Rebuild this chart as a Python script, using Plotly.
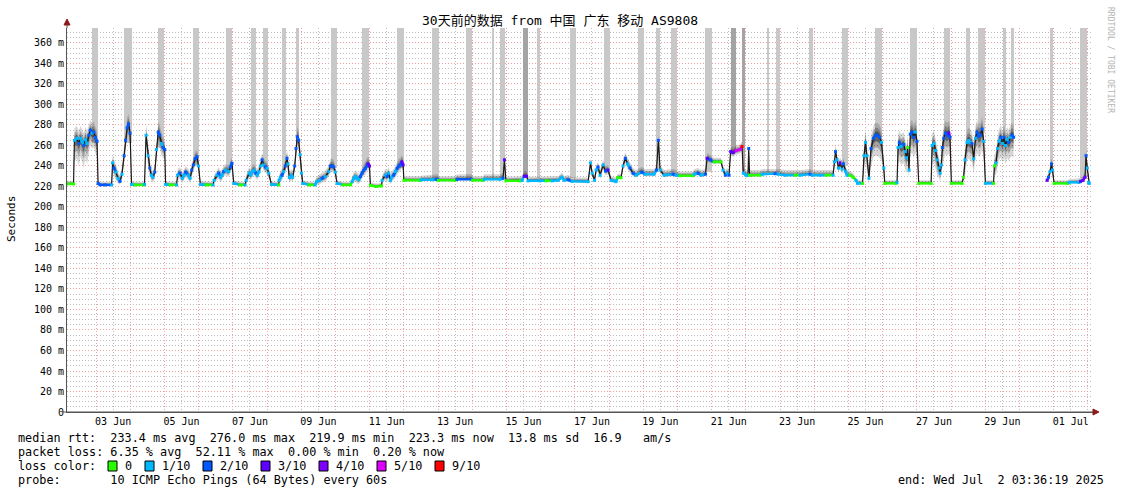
import plotly.graph_objects as go
import pandas as pd

# ---------------- data ----------------
times = [
    "06-02 03:36", "06-02 08:12", "06-02 08:48", "06-02 10:30", "06-02 11:54", "06-02 13:00", "06-02 14:12",
    "06-02 15:24", "06-02 16:30", "06-02 17:42", "06-02 18:54", "06-02 20:00", "06-02 21:12", "06-02 22:24",
    "06-02 23:30", "06-03 00:42", "06-03 01:24",
    "06-03 02:48", "06-03 06:18", "06-03 10:54", "06-03 11:36", "06-03 12:36", "06-03 14:00", "06-03 15:24",
    "06-03 16:48", "06-03 18:12", "06-03 19:42", "06-03 20:42", "06-03 21:48", "06-03 22:48", "06-03 23:54",
    "06-04 00:54",
    "06-04 03:24", "06-04 09:18", "06-04 10:00", "06-04 11:06", "06-04 12:30", "06-04 13:42", "06-04 14:48",
    "06-04 16:00", "06-04 17:12", "06-04 18:24", "06-04 19:36", "06-04 20:42", "06-04 21:54", "06-04 23:06",
    "06-05 00:12", "06-05 00:48",
    "06-05 03:54", "06-05 08:30", "06-05 09:12", "06-05 10:54", "06-05 12:24", "06-05 13:48", "06-05 14:48",
    "06-05 16:54", "06-05 18:00", "06-05 19:06", "06-05 20:18", "06-05 21:30", "06-05 22:54", "06-05 23:54",
    "06-06 01:12",
    "06-06 05:12", "06-06 10:06", "06-06 10:48", "06-06 12:54", "06-06 14:06", "06-06 15:12", "06-06 16:24",
    "06-06 17:36", "06-06 18:42", "06-06 21:06", "06-06 22:12", "06-06 23:24", "06-07 00:36",
    "06-07 05:06", "06-07 08:36", "06-07 09:18", "06-07 11:24", "06-07 12:36", "06-07 13:42", "06-07 14:54",
    "06-07 16:06", "06-07 17:12", "06-07 18:24", "06-07 19:18", "06-07 20:30", "06-07 21:42", "06-07 22:48",
    "06-08 00:00", "06-08 01:12", "06-08 03:00",
    "06-08 08:12", "06-08 08:24", "06-08 09:18", "06-08 10:30", "06-08 11:42", "06-08 12:48", "06-08 14:00",
    "06-08 14:42", "06-08 15:36", "06-08 17:00", "06-08 18:00", "06-08 19:24", "06-08 20:18", "06-08 21:12",
    "06-08 22:12", "06-08 23:12", "06-09 00:06", "06-09 01:00",
    "06-09 05:30", "06-09 09:42", "06-09 10:42", "06-09 12:54", "06-09 14:36", "06-09 16:54", "06-09 19:18",
    "06-09 20:24", "06-09 21:36", "06-09 22:48", "06-09 23:54", "06-10 01:06",
    "06-10 05:18", "06-10 10:30", "06-10 11:42", "06-10 12:48", "06-10 14:00", "06-10 15:12", "06-10 16:24",
    "06-10 17:30", "06-10 18:42", "06-10 19:54", "06-10 21:00", "06-10 22:12", "06-10 22:54", "06-10 23:54",
    "06-11 00:30",
    "06-11 04:30", "06-11 08:24", "06-11 08:42", "06-11 11:00", "06-11 12:12", "06-11 13:24", "06-11 14:30",
    "06-11 15:42", "06-11 16:54", "06-11 18:06", "06-11 19:18", "06-11 20:24", "06-11 21:36", "06-11 22:36",
    "06-11 23:30", "06-12 00:00",
    "06-12 11:24", "06-12 12:06", "06-12 19:48", "06-12 22:36", "06-12 23:48", "06-13 00:12", "06-13 11:54",
    "06-13 13:18", "06-13 23:36", "06-14 00:12", "06-14 07:36", "06-14 08:18", "06-14 19:30", "06-14 21:36",
    "06-14 22:36", "06-14 23:36", "06-15 09:30", "06-15 11:00", "06-15 12:24", "06-15 14:06", "06-15 15:12",
    "06-15 23:36", "06-16 03:48", "06-16 08:00", "06-16 12:12", "06-16 15:00", "06-16 16:24", "06-16 19:12",
    "06-16 22:00",
    "06-17 09:18", "06-17 11:00", "06-17 12:06", "06-17 13:48", "06-17 14:54", "06-17 16:18", "06-17 17:42",
    "06-17 19:48", "06-17 21:30", "06-17 23:18", "06-18 01:24", "06-18 04:54", "06-18 06:00", "06-18 08:24",
    "06-18 09:48", "06-18 11:24", "06-18 13:00", "06-18 14:42", "06-18 16:48", "06-18 18:54", "06-18 22:54",
    "06-19 01:18", "06-19 07:36", "06-19 09:18", "06-19 10:36", "06-19 11:48", "06-19 14:36", "06-19 20:54",
    "06-19 23:00", "06-20 01:48", "06-20 10:54", "06-20 11:42", "06-20 14:30", "06-20 16:30", "06-20 19:42",
    "06-20 20:48", "06-20 22:54", "06-21 01:42", "06-21 06:36", "06-21 08:00", "06-21 09:36", "06-21 10:48",
    "06-21 12:12", "06-21 13:18", "06-21 15:00", "06-21 17:06", "06-21 19:54", "06-21 21:18", "06-21 22:12",
    "06-22 00:06", "06-22 01:30", "06-22 02:00", "06-22 02:36", "06-22 10:00", "06-22 11:24", "06-22 20:30",
    "06-22 22:36", "06-23 03:30", "06-23 10:30", "06-23 14:00", "06-23 21:00", "06-23 22:30", "06-24 04:06",
    "06-24 08:18", "06-24 13:12", "06-24 14:12", "06-24 14:54", "06-24 16:00", "06-24 17:00", "06-24 18:06",
    "06-24 19:30", "06-24 20:30", "06-24 21:48", "06-24 23:00",
    "06-25 01:06", "06-25 03:12", "06-25 05:18", "06-25 06:24", "06-25 09:54", "06-25 10:54", "06-25 12:00",
    "06-25 13:00", "06-25 14:24", "06-25 15:48", "06-25 17:36", "06-25 19:00", "06-25 20:24", "06-25 21:48",
    "06-25 23:12", "06-26 00:48", "06-26 01:30",
    "06-26 09:24", "06-26 10:06", "06-26 10:48", "06-26 11:42", "06-26 12:54", "06-26 14:48", "06-26 15:54",
    "06-26 16:42", "06-26 17:36", "06-26 18:30", "06-26 19:24", "06-26 20:36", "06-26 21:48", "06-26 22:54",
    "06-27 00:06", "06-27 01:18",
    "06-27 10:00", "06-27 10:42", "06-27 12:06", "06-27 13:06", "06-27 14:12", "06-27 15:36", "06-27 16:18",
    "06-27 17:12", "06-27 17:54", "06-27 18:54", "06-27 20:00", "06-27 21:12", "06-27 22:24", "06-27 23:18",
    "06-28 00:12",
    "06-28 07:42", "06-28 08:48", "06-28 09:48", "06-28 11:12", "06-28 12:24", "06-28 13:30", "06-28 14:42",
    "06-28 15:54", "06-28 17:06", "06-28 18:12", "06-28 19:24", "06-28 20:36", "06-28 21:48", "06-28 22:54",
    "06-29 00:06",
    "06-29 05:48", "06-29 06:24", "06-29 07:36", "06-29 08:36", "06-29 09:42", "06-29 10:54", "06-29 12:00",
    "06-29 13:12", "06-29 14:12", "06-29 15:18", "06-29 16:24", "06-29 17:36", "06-29 18:48", "06-29 19:54",
    "06-30 00:00",
    "06-30 19:24", "06-30 20:24", "06-30 21:30", "06-30 22:30", "06-30 23:12", "07-01 00:18", "07-01 10:06",
    "07-01 10:48", "07-01 17:48", "07-01 18:54", "07-01 20:36", "07-01 22:00", "07-01 22:42", "07-01 23:36",
    "07-02 00:30", "07-02 01:00",
]

median_ms = [
    222.5, 222.5, 265, 267, 262, 267, 264, 260, 266, 262, 270, 275, 272, 273, 268, 264, 223,
    221.5, 221.5, 221.5, 243, 238, 234, 228, 225, 232, 250, 265, 277, 281, 272, 222,
    221.5, 221.5, 222, 270, 250, 238, 231, 229, 234, 256, 273, 270, 262, 258, 256, 222,
    221.5, 221.5, 231, 233, 228, 231, 234, 231, 228, 236, 241, 247, 249, 240, 222,
    221.5, 221.5, 226, 231, 233, 229, 231, 234.5, 236, 234.5, 239, 242.6, 223,
    221.5, 221.5, 226, 233, 231, 234.5, 236, 233, 231, 234.5, 240, 246, 241, 239, 237.7, 233, 222,
    221.5, 226, 228.7, 231, 234.5, 240, 247.5, 242, 228.7, 231, 229, 240, 257, 268.5, 265, 251, 233, 223,
    221.5, 221.5, 224.7, 226, 228, 229.6, 234.5, 240, 240, 239, 234, 223,
    221.5, 221.5, 224.7, 228, 229.6, 228, 226.5, 229.6, 233, 236, 237.7, 241, 242, 240, 221,
    220, 220.5, 226, 231, 229.6, 233, 226, 229.6, 231, 234.5, 237.7, 240, 241, 244, 241, 226,
    226, 226.5, 226.5, 227, 227, 226, 226, 227, 227, 226, 226, 227, 227, 228,
    246, 225.5, 225.5, 226, 230, 230, 225.5, 225.5, 225.5, 225.5, 226, 229, 226, 226.5, 225,
    224.7, 243, 233, 226, 236, 239, 231, 241, 235, 236, 226, 224.7, 228.5, 228.5,
    240, 247.5, 242, 238, 233, 231, 234, 232, 232, 236, 265, 236, 231, 232,
    231, 230.5, 230.5, 232, 233, 231, 232, 247.5, 246, 244, 244, 236, 231, 233,
    231, 254, 253, 255, 256, 259, 233, 231, 231, 257, 231, 231, 232, 232.5,
    232, 231, 231, 231, 232, 231, 231, 231, 231, 244, 254, 246, 238, 243,
    237, 242, 235, 231,
    231, 229, 226, 223, 223, 250, 263, 250, 228, 257, 267, 270, 270, 268, 263, 238, 223,
    223, 224, 258, 263, 259, 261, 254, 248, 258, 236, 271, 273, 268, 273, 264, 223,
    223, 260, 262, 255, 246, 238, 233, 241, 258, 267, 272, 270, 272, 268, 223,
    223, 229, 246, 263, 265, 263, 262, 247, 267, 273, 269, 270, 276, 264, 223,
    223, 240, 243, 257, 264, 268, 262, 268, 260, 266, 263, 268, 270, 268,
    None,
    226, 229, 234.5, 242, 236, 223, 223, 224, 224, 225, 226, 229, 250, 238, 224, 223,
]

loss_tenths = [
    0, 0, 1, 1, 2, 1, 1, 2, 1, 1, 2, 2, 1, 2, 2, 2, 2,
    2, 2, 1, 1, 2, 1, 1, 2, 1, 2, 2, 2, 2, 2, 1,
    0, 0, 1, 1, 1, 2, 1, 1, 2, 1, 2, 2, 1, 2, 2, 1,
    0, 1, 1, 2, 1, 1, 2, 1, 1, 2, 2, 2, 2, 1, 1,
    0, 1, 1, 1, 2, 1, 1, 2, 1, 1, 2, 2, 1,
    0, 1, 1, 1, 1, 1, 1, 2, 1, 1, 1, 2, 1, 2, 1, 1, 1,
    0, 1, 1, 2, 1, 2, 2, 1, 1, 1, 1, 2, 2, 2, 2, 1, 1, 1,
    0, 1, 1, 1, 2, 1, 1, 2, 2, 2, 1, 1,
    0, 0, 1, 1, 1, 1, 1, 2, 2, 2, 2, 2, 3, 3, 0,
    0, 0, 1, 1, 2, 1, 1, 1, 2, 1, 2, 2, 2, 3, 3, 0,
    0, 1, 1, 2, 2, 0, 0, 2, 2, 0, 0, 1, 1, 2,
    3, 0, 0, 1, 3, 3, 1, 1, 0, 1, 1, 1, 1, 2, 1,
    1, 1, 1, 1, 1, 2, 1, 1, 2, 3, 1, 1, 0, 0,
    1, 2, 1, 2, 2, 1, 2, 1, 1, 2, 2, 1, 1, 2,
    1, 0, 0, 1, 2, 1, 2, 3, 2, 0, 0, 1, 2, 1,
    2, 3, 3, 5, 5, 9, 1, 1, 1, 2, 0, 0, 1, 2,
    1, 1, 0, 1, 2, 1, 1, 0, 1, 1, 2, 1, 1, 3,
    1, 2, 1, 1,
    0, 0, 1, 1, 0, 1, 1, 1, 1, 2, 2, 2, 2, 2, 1, 1, 0,
    0, 1, 1, 2, 1, 2, 1, 1, 0, 1, 2, 2, 2, 1, 2, 0,
    0, 1, 1, 1, 1, 1, 1, 1, 2, 2, 2, 2, 3, 2, 0,
    0, 0, 1, 1, 1, 1, 2, 1, 1, 2, 2, 2, 2, 1, 1,
    0, 0, 1, 1, 1, 2, 1, 2, 1, 1, 2, 1, 2, 2,
    0,
    3, 2, 1, 2, 1, 0, 0, 1, 1, 3, 3, 3, 2, 1, 1, 1,
]

smoke_up = [
    3, 3, 12, 12, 12, 12, 12, 12, 12, 12, 10, 10, 10, 10, 10, 10, 3,
    3, 3, 3, 8, 8, 8, 6, 6, 8, 10, 10, 10, 10, 10, 3,
    3, 3, 3, 12, 10, 8, 6, 6, 8, 10, 10, 10, 10, 10, 10, 3,
    3, 3, 6, 6, 6, 6, 6, 6, 6, 6, 7, 7, 7, 6, 3,
    3, 3, 5, 6, 6, 6, 6, 6, 6, 6, 6, 6, 3,
    3, 3, 5, 6, 6, 6, 6, 6, 6, 6, 6, 7, 6, 6, 6, 6, 3,
    3, 5, 6, 6, 6, 7, 8, 7, 6, 6, 6, 7, 10, 10, 10, 8, 6, 3,
    3, 3, 5, 6, 6, 6, 6, 7, 7, 7, 6, 3,
    3, 3, 5, 6, 6, 6, 6, 6, 6, 7, 7, 7, 7, 7, 3,
    3, 3, 5, 6, 6, 6, 6, 6, 6, 6, 7, 7, 7, 7, 7, 4,
    4, 4, 5, 5, 5, 4, 4, 5, 5, 4, 4, 5, 5, 5,
    6, 4, 4, 4, 5, 5, 4, 4, 4, 4, 4, 5, 4, 5, 4,
    4, 5, 5, 5, 5, 5, 5, 5, 5, 5, 4, 4, 4, 4,
    5, 6, 6, 6, 5, 5, 5, 5, 5, 5, 6, 5, 5, 5,
    5, 4, 4, 5, 5, 5, 5, 5, 5, 4, 4, 5, 5, 5,
    5, 5, 5, 5, 5, 5, 5, 5, 5, 5, 5, 5, 5, 5,
    5, 5, 5, 5, 5, 5, 5, 5, 5, 6, 7, 6, 6, 6,
    6, 6, 5, 5,
    4, 4, 3, 3, 3, 12, 12, 12, 10, 12, 12, 12, 12, 12, 12, 8, 3,
    3, 3, 12, 12, 12, 12, 12, 12, 12, 10, 12, 12, 12, 12, 12, 3,
    3, 12, 12, 12, 12, 10, 10, 10, 12, 12, 12, 12, 12, 12, 3,
    3, 6, 12, 12, 12, 12, 12, 12, 12, 12, 12, 12, 12, 12, 3,
    3, 10, 12, 12, 12, 12, 12, 12, 12, 12, 12, 12, 12, 12,
    0,
    4, 5, 6, 6, 6, 3, 3, 3, 4, 4, 4, 5, 6, 5, 4, 3,
]

smoke_dn = [
    1, 1, 20, 20, 22, 18, 20, 22, 18, 20, 18, 15, 15, 15, 15, 15, 1,
    1, 1, 1, 8, 8, 8, 5, 3, 6, 10, 10, 10, 10, 12, 1,
    1, 1, 1, 10, 10, 8, 6, 5, 6, 10, 12, 12, 12, 10, 10, 1,
    1, 1, 5, 5, 5, 5, 5, 5, 5, 6, 6, 7, 7, 6, 1,
    1, 1, 3, 5, 5, 5, 5, 5, 5, 5, 6, 6, 1,
    1, 1, 3, 5, 5, 5, 5, 5, 5, 5, 6, 7, 6, 6, 6, 5, 1,
    1, 3, 5, 5, 5, 6, 8, 7, 5, 5, 5, 6, 10, 10, 10, 8, 6, 1,
    1, 1, 3, 4, 4, 5, 5, 6, 6, 6, 5, 1,
    1, 1, 3, 4, 5, 5, 4, 5, 5, 6, 6, 6, 6, 6, 1,
    1, 1, 3, 5, 5, 5, 4, 5, 5, 5, 6, 6, 6, 6, 6, 1,
    1, 1, 1, 1, 1, 1, 1, 1, 1, 1, 1, 1, 1, 1,
    4, 1, 1, 1, 2, 2, 1, 1, 1, 1, 1, 2, 1, 1, 1,
    1, 5, 4, 2, 4, 4, 4, 5, 4, 4, 2, 1, 1, 1,
    4, 5, 5, 5, 3, 2, 2, 2, 2, 3, 6, 3, 2, 2,
    2, 1, 1, 2, 2, 2, 2, 3, 3, 2, 2, 3, 2, 2,
    2, 4, 4, 4, 4, 4, 2, 2, 2, 4, 2, 1, 1, 1,
    1, 1, 1, 1, 1, 1, 1, 1, 1, 5, 6, 6, 5, 5,
    5, 5, 4, 2,
    1, 1, 1, 1, 1, 15, 18, 15, 5, 18, 18, 20, 20, 20, 18, 8, 1,
    1, 1, 18, 18, 18, 18, 18, 15, 18, 8, 20, 20, 20, 20, 18, 1,
    1, 18, 18, 18, 15, 10, 8, 10, 18, 20, 20, 20, 20, 20, 1,
    1, 3, 15, 18, 18, 18, 18, 15, 18, 20, 20, 20, 20, 18, 1,
    1, 8, 12, 18, 18, 20, 18, 20, 18, 18, 18, 20, 20, 20,
    0,
    1, 3, 5, 6, 5, 1, 1, 1, 1, 1, 1, 2, 6, 4, 1, 1,
]

# smoke that ran off the top of the chart (at least one ping above the scale)
bar_start = [
    "06-02 21:12", "06-03 19:54", "06-04 19:12", "06-05 20:06", "06-06 19:12", "06-07 12:48", "06-07 21:12",
    "06-08 10:30", "06-08 20:00", "06-09 20:36", "06-10 18:42", "06-11 19:12", "06-12 19:48", "06-13 19:18",
    "06-14 13:30", "06-14 19:30", "06-15 11:36", "06-15 21:30", "06-16 20:36", "06-17 20:06", "06-18 20:00",
    "06-19 09:00", "06-19 19:12", "06-20 19:24", "06-21 13:18", "06-21 21:00", "06-22 14:54", "06-22 21:12",
    "06-23 20:00", "06-24 19:30", "06-25 18:42", "06-26 19:12", "06-27 18:42", "06-28 10:30", "06-28 18:54",
    "06-29 12:30", "06-29 17:48", "06-30 21:30", "07-01 18:30",
]
bar_end = [
    "06-03 01:24", "06-04 00:54", "06-04 23:42", "06-06 00:18", "06-06 23:24", "06-07 16:18", "06-08 00:24",
    "06-08 13:00", "06-08 22:06", "06-10 00:48", "06-10 23:12", "06-11 23:48", "06-13 00:24", "06-13 23:30",
    "06-14 15:18", "06-14 23:00", "06-15 15:12", "06-15 23:36", "06-17 00:48", "06-18 00:24", "06-19 00:12",
    "06-19 11:48", "06-19 23:24", "06-20 23:54", "06-21 16:48", "06-21 23:06", "06-22 16:18", "06-23 00:00",
    "06-23 22:48", "06-24 23:36", "06-25 23:36", "06-26 23:48", "06-27 23:18", "06-28 13:18", "06-28 23:54",
    "06-29 14:36", "06-29 20:12", "06-30 23:36", "07-01 23:06",
]
bar_base = [
    262, 262, 258, 240, 236, 234, 240, 235, 262, 238, 238, 238, 228, 228,
    228, 228, 228, 228, 228, 236, 234, 236, 234, 234, 255, 235, 234, 234,
    234, 240, 268, 270, 270, 264, 272, 266, 268, 238, 228,
]
bar_pings_over = [
    1, 1, 1, 1, 1, 1, 1, 1, 1, 1, 1, 1, 1, 1,
    1, 1, 2, 1, 1, 1, 1, 1, 1, 1, 2, 2, 1, 1,
    1, 1, 1, 1, 1, 1, 1, 1, 1, 1, 1,
]

y_tick_vals = [0, 20, 40, 60, 80, 100, 120, 140, 160, 180, 200, 220, 240, 260, 280, 300, 320, 340, 360]
y_tick_text = ["0"] + [f"{v} m" for v in y_tick_vals[1:]]

title_text = "30天前的数据 from 中国 广东 移动 AS9808"
stat_lines = [
    "median rtt:  233.4 ms avg  276.0 ms max  219.9 ms min  223.3 ms now  13.8 ms sd  16.9   am/s",
    "packet loss: 6.35 % avg  52.11 % max  0.00 % min  0.20 % now",
    "loss color:",
    "probe:       10 ICMP Echo Pings (64 Bytes) every 60s",
]
loss_levels = [0, 1, 2, 3, 4, 5, 9]
loss_labels = ["0", "1/10", "2/10", "3/10", "4/10", "5/10", "9/10"]
end_text = "end: Wed Jul  2 03:36:19 2025"
x_start = "2025-06-02 03:36:19"
x_end = "2025-07-02 03:36:19"

# ---------------- styling ----------------
LOSS_COLORS = {0: "#26ff00", 1: "#00b8ff", 2: "#0059ff", 3: "#5e00ff",
               4: "#7e00ff", 5: "#dd00ff", 9: "#ff0000"}
MONO = "DejaVu Sans Mono, Noto Sans CJK SC, monospace"
W, H = 1121, 494
L, R, T, B = 67, 1093, 28, 412
Y_TOP = 374.6
RED_GRID = "#f0a0a0"
GRAY_GRID = "#bdbdbd"
DOTS = "1px,2px"


def px(x):
    return (x - L) / (R - L)


def py(y):
    return (B - y) / (B - T)


t = pd.to_datetime(["2025-" + s for s in times])

fig = go.Figure()

# tall bars (smoke beyond the chart top)
bs = pd.to_datetime(["2025-" + s for s in bar_start])
be = pd.to_datetime(["2025-" + s for s in bar_end])
centers = bs + (be - bs) / 2
widths = [(e - s).total_seconds() * 1000 for s, e in zip(bs, be)]
bar_cols = ["#c8c8c8" if n == 1 else "#a4a4a4" for n in bar_pings_over]
fig.add_trace(go.Bar(x=centers, y=[Y_TOP + 10 - b for b in bar_base], base=bar_base,
                     width=widths, marker=dict(color=bar_cols, line=dict(width=0)),
                     hoverinfo="skip"))

# contiguous runs (split at missing data)
runs, cur = [], []
for i, m in enumerate(median_ms):
    if m is None:
        if cur:
            runs.append(cur)
        cur = []
    else:
        cur.append(i)
if cur:
    runs.append(cur)

# smoke layers
for frac, col in [(1.0, "rgba(0,0,0,0.16)"), (0.6, "rgba(0,0,0,0.24)"), (0.3, "rgba(0,0,0,0.38)")]:
    for run in runs:
        xs = [t[i] for i in run]
        hi = [median_ms[i] + smoke_up[i] * frac for i in run]
        lo = [median_ms[i] - smoke_dn[i] * frac for i in run]
        fig.add_trace(go.Scatter(x=xs + xs[::-1], y=hi + lo[::-1], fill="toself",
                                 fillcolor=col, line=dict(width=0), mode="lines",
                                 hoverinfo="skip"))

# median line (black core)
fig.add_trace(go.Scatter(x=t, y=median_ms, mode="lines", connectgaps=False,
                         line=dict(color="#1a1a1a", width=1.2), hoverinfo="skip"))

# coloured median segments by packet loss
for lv in loss_levels:
    sx, sy = [], []
    for i in range(len(median_ms) - 1):
        a, b = median_ms[i], median_ms[i + 1]
        if a is None or b is None:
            continue
        if loss_tenths[i] == lv and abs(b - a) <= 4:
            sx += [t[i], t[i + 1], None]
            sy += [a, b, None]
    if sx:
        fig.add_trace(go.Scatter(x=sx, y=sy, mode="lines",
                                 line=dict(color=LOSS_COLORS[lv], width=2.4),
                                 hoverinfo="skip"))

mx = [t[i] for i, m in enumerate(median_ms) if m is not None]
my = [m for m in median_ms if m is not None]
mc = [LOSS_COLORS[loss_tenths[i]] for i, m in enumerate(median_ms) if m is not None]
fig.add_trace(go.Scatter(x=mx, y=my, mode="markers",
                         marker=dict(symbol="square", size=3, color=mc, line=dict(width=0)),
                         hoverinfo="skip"))

# invisible trace for the midnight grid axis
fig.add_trace(go.Scatter(x=[x_start], y=[None], xaxis="x2", mode="markers", hoverinfo="skip"))

fig.update_layout(
    width=W, height=H,
    margin=dict(l=L, r=W - R, t=T, b=H - B, pad=0),
    paper_bgcolor="white", plot_bgcolor="white",
    showlegend=False, bargap=0,
    font=dict(family=MONO, size=10, color="#000000"),
    xaxis=dict(
        type="date", range=[x_start, x_end],
        tick0="2025-06-03 12:00", dtick=2 * 86400000, tickformat="%d %b",
        showgrid=True, gridcolor=GRAY_GRID, griddash=DOTS, gridwidth=1,
        minor=dict(dtick=86400000, showgrid=True, gridcolor=GRAY_GRID, griddash=DOTS, gridwidth=1),
        showline=True, linecolor="#555555", linewidth=1,
        ticks="", tickfont=dict(family=MONO, size=10, color="#000"),
        zeroline=False, fixedrange=True, automargin=False,
    ),
    xaxis2=dict(
        type="date", range=[x_start, x_end], overlaying="x", anchor="y",
        tick0="2025-06-03 00:00", dtick=86400000, showticklabels=False,
        showgrid=True, gridcolor=RED_GRID, griddash=DOTS, gridwidth=1,
        showline=False, ticks="", zeroline=False, fixedrange=True,
    ),
    yaxis=dict(
        range=[0, Y_TOP], tickvals=y_tick_vals, ticktext=y_tick_text,
        showgrid=True, gridcolor=RED_GRID, griddash=DOTS, gridwidth=1,
        minor=dict(dtick=5, showgrid=True, gridcolor=GRAY_GRID, griddash=DOTS, gridwidth=1),
        showline=True, linecolor="#555555", linewidth=1,
        ticks="", ticklen=0, tickfont=dict(family=MONO, size=10, color="#000"),
        zeroline=False, fixedrange=True, automargin=False,
    ),
)

ann = []
ann.append(dict(text=title_text, x=px(560), y=py(21), xref="paper", yref="paper",
                xanchor="center", yanchor="middle", showarrow=False,
                font=dict(family=MONO, size=13, color="#000")))
ann.append(dict(text="Seconds", x=px(11), y=py(219), xref="paper", yref="paper",
                xanchor="center", yanchor="middle", textangle=-90, showarrow=False,
                font=dict(family=MONO, size=11, color="#000")))
ann.append(dict(text="RRDTOOL / TOBI OETIKER", x=px(1111), y=py(60), xref="paper", yref="paper",
                xanchor="center", yanchor="middle", textangle=90, showarrow=False,
                font=dict(family=MONO, size=8, color="#b4b4b4")))
for k, line in enumerate(stat_lines):
    ann.append(dict(text=line.replace(" ", "&nbsp;"), x=px(16), y=py(438 + 14 * k),
                    xref="paper", yref="paper", xanchor="left", yanchor="middle",
                    showarrow=False, font=dict(family=MONO, size=11.8, color="#000")))
ann.append(dict(text=end_text.replace(" ", "&nbsp;"), x=px(1106), y=py(480), xref="paper", yref="paper",
                xanchor="right", yanchor="middle", showarrow=False,
                font=dict(family=MONO, size=11.8, color="#000")))

box_x = [108, 145, 203, 261, 319, 377, 435]
shapes = []
for bx, lv, lab in zip(box_x, loss_levels, loss_labels):
    shapes.append(dict(type="rect", xref="paper", yref="paper",
                       x0=px(bx), x1=px(bx + 9), y0=py(471), y1=py(461),
                       fillcolor=LOSS_COLORS[lv], line=dict(color="#000", width=1)))
    ann.append(dict(text=lab, x=px(bx + 15), y=py(466), xref="paper", yref="paper",
                    xanchor="left", yanchor="middle", showarrow=False,
                    font=dict(family=MONO, size=11.8, color="#000")))

# axis arrows
shapes.append(dict(type="line", xref="paper", yref="paper", x0=px(L), x1=px(L),
                   y0=1, y1=py(23), line=dict(color="#555555", width=1)))
shapes.append(dict(type="path", xref="paper", yref="paper",
                   path=f"M {px(L)} {py(19)} L {px(L - 3)} {py(25)} L {px(L + 3)} {py(25)} Z",
                   fillcolor="#8b1a1a", line=dict(color="#8b1a1a", width=1)))
shapes.append(dict(type="line", xref="paper", yref="paper", x0=px(L - 4), x1=px(1095),
                   y0=0, y1=0, line=dict(color="#555555", width=1)))
shapes.append(dict(type="path", xref="paper", yref="paper",
                   path=f"M {px(1099)} {py(B)} L {px(1093)} {py(B - 3)} L {px(1093)} {py(B + 3)} Z",
                   fillcolor="#8b1a1a", line=dict(color="#8b1a1a", width=1)))

fig.update_layout(annotations=ann, shapes=shapes)
fig.write_html("out.html",
               config={"displayModeBar": False, "staticPlot": True},
               post_script="document.body.style.margin='0px';document.body.style.overflow='hidden';")
